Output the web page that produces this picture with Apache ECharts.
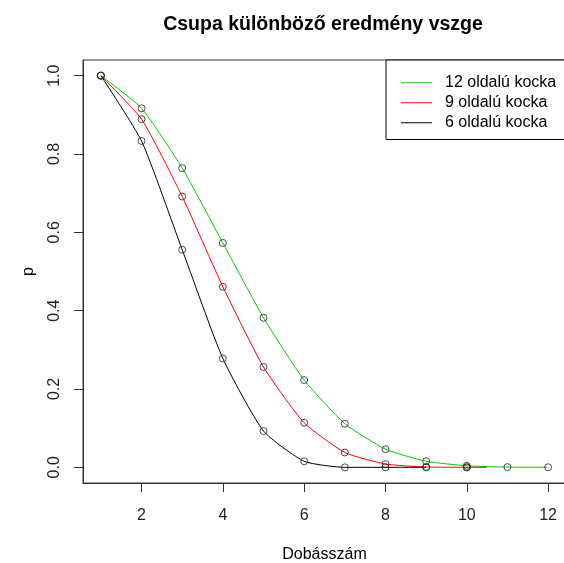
<!DOCTYPE html>
<html>
<head>
<meta charset="utf-8">
<script src="https://cdn.jsdelivr.net/npm/echarts@6/dist/echarts.min.js"></script>
<style>html,body{margin:0;padding:0;background:#fff;}#c{width:564px;height:563px;}</style>
</head>
<body>
<div id="c"></div>
<script>
// Tick labels
var xTicks = [2, 4, 6, 8, 10, 12];
var yTicks = [0, 0.2, 0.4, 0.6, 0.8, 1.0];

// Point values (throws -> probability)
var xPoints12 = [1, 2, 3, 4, 5, 6, 7, 8, 9, 10, 11, 12];
var p12 = [1, 0.9167, 0.7639, 0.5729, 0.3819, 0.2228, 0.1114, 0.0464, 0.0155, 0.0039, 0.0006, 0.0001];
var xPoints9 = [1, 2, 3, 4, 5, 6, 7, 8, 9, 10];
var p9 = [1, 0.8889, 0.6914, 0.4609, 0.2561, 0.1138, 0.0379, 0.0084, 0.0009, 0];
var xPoints6 = [1, 2, 3, 4, 5, 6, 7, 8, 9, 10];
var p6 = [1, 0.8333, 0.5556, 0.2778, 0.0926, 0.0154, 0, 0, 0, 0];

// Line extents (as drawn in the reference)
var xLine12 = [1, 2, 3, 4, 5, 6, 7, 8, 9, 10, 11, 12];
var yLine12 = [1, 0.9167, 0.7639, 0.5729, 0.3819, 0.2228, 0.1114, 0.0464, 0.0155, 0.0039, 0.0006, 0.0001];
var xLine9 = [1, 2, 3, 4, 5, 6, 7, 8, 9, 10.5];
var yLine9 = [1, 0.8889, 0.6914, 0.4609, 0.2561, 0.1138, 0.0379, 0.0084, 0.0009, 0];
var xLine6 = [1, 2, 3, 4, 5, 6, 7, 8, 9];
var yLine6 = [1, 0.8333, 0.5556, 0.2778, 0.0926, 0.0154, 0, 0, 0];

var names = ['12 oldalú kocka', '9 oldalú kocka', '6 oldalú kocka'];
var colors = ['#00CD00', '#FF0000', '#000000'];

function zip(a, b) { return a.map(function (v, i) { return [v, b[i]]; }); }

var FONT = '"Liberation Sans", Arial, sans-serif';
var chart = echarts.init(document.getElementById('c'), null, {renderer: 'canvas'});

function lineSeries(name, xs, ys, color) {
  return {
    name: name, type: 'line', data: zip(xs, ys), smooth: 0.18,
    symbol: 'none', color: color, lineStyle: {width: 1, color: color}, z: 2
  };
}
function pointSeries(xs, ys) {
  return {
    type: 'scatter', data: zip(xs, ys), symbol: 'circle', symbolSize: 7,
    itemStyle: {color: 'rgba(0,0,0,0)', borderColor: '#222', borderWidth: 1}, z: 3,
    silent: true
  };
}

chart.setOption({
  animation: false,
  backgroundColor: '#fff',
  title: {
    text: 'Csupa különböző eredmény vszge',
    left: 318, top: 10, textAlign: 'center',
    textStyle: {fontFamily: FONT, fontSize: 19.5, fontWeight: 'bold', color: '#000'}
  },
  legend: {
    orient: 'vertical', left: 386, top: 60,
    padding: [13, 30, 7, 15],
    itemWidth: 31, itemHeight: 1, itemGap: 0.5,
    icon: 'rect',
    borderColor: '#000', borderWidth: 1, backgroundColor: '#fff',
    data: names,
    textStyle: {fontFamily: FONT, fontSize: 16, color: '#000', lineHeight: 19.5, padding: [0, 0, 0, 8]}
  },
  grid: {left: 83, top: 60, width: 483, height: 423, outerBoundsMode: 'none', containLabel: false,
    show: true, borderColor: '#333', borderWidth: 1, backgroundColor: 'transparent'},
  xAxis: {
    type: 'value', min: 0.56, max: 12.44,
    name: 'Dobásszám', nameLocation: 'middle', nameGap: 64,
    nameTextStyle: {fontFamily: FONT, fontSize: 16, color: '#000'},
    axisLine: {show: true, onZero: false, lineStyle: {color: '#333', width: 1}},
    splitLine: {show: false},
    axisTick: {show: true, inside: false, length: 9, customValues: xTicks, lineStyle: {color: '#333', width: 1}},
    axisLabel: {customValues: xTicks, margin: 25, fontFamily: FONT, fontSize: 16, color: '#222'}
  },
  yAxis: {
    type: 'value', min: -0.04, max: 1.04,
    name: 'p', nameLocation: 'middle', nameGap: 46, nameRotate: 90,
    nameTextStyle: {fontFamily: FONT, fontSize: 16, color: '#000'},
    axisLine: {show: true, onZero: false, lineStyle: {color: '#333', width: 1}},
    splitLine: {show: false},
    axisTick: {show: true, inside: false, length: 9, customValues: yTicks, lineStyle: {color: '#333', width: 1}},
    axisLabel: {customValues: yTicks, rotate: 90, margin: 20, fontFamily: FONT, fontSize: 16, color: '#222',
      formatter: function (v) { return v.toFixed(1); }}
  },
  series: [
    lineSeries(names[0], xLine12, yLine12, colors[0]),
    lineSeries(names[1], xLine9, yLine9, colors[1]),
    lineSeries(names[2], xLine6, yLine6, colors[2]),
    pointSeries(xPoints12, p12),
    pointSeries(xPoints9, p9),
    pointSeries(xPoints6, p6)
  ]
});
</script>
</body>
</html>
